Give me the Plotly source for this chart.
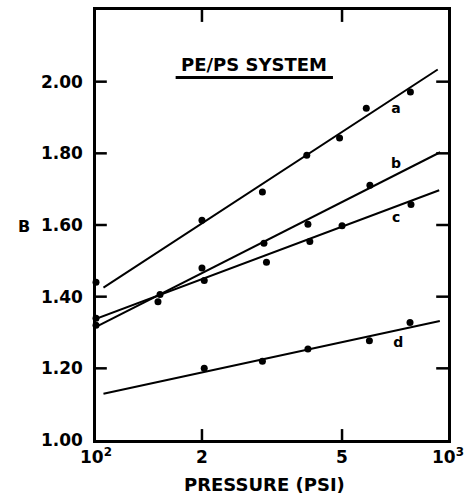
import math
import plotly.graph_objects as go

# Data
a_P = [100, 200, 297, 397, 492, 586, 782]
a_B = [1.44, 1.613, 1.692, 1.795, 1.843, 1.926, 1.971]
b_P = [100, 152, 200, 300, 400, 600]
b_B = [1.32, 1.406, 1.48, 1.549, 1.602, 1.711]
c_P = [100, 150, 203, 305, 405, 500, 785]
c_B = [1.34, 1.386, 1.445, 1.496, 1.554, 1.598, 1.657]
d_P = [203, 297, 400, 598, 780]
d_B = [1.20, 1.22, 1.254, 1.277, 1.328]

# fitted line endpoints
fit_a_P, fit_a_B = [105, 935], [1.425, 2.034]
fit_b_P, fit_b_B = [100, 950], [1.316, 1.803]
fit_c_P, fit_c_B = [100, 944], [1.338, 1.697]
fit_d_P, fit_d_B = [105, 948], [1.129, 1.332]

curve_labels = ["a", "b", "c", "d"]
label_P = [712, 712, 712, 722]
label_B = [1.921, 1.768, 1.619, 1.268]

x_tickvals = [100, 200, 500, 1000]
x_ticktext = ["10<sup>2</sup>", "2", "5", "10<sup>3</sup>"]
y_tickvals = [1.0, 1.2, 1.4, 1.6, 1.8, 2.0]
y_ticktext = ["1.00", "1.20", "1.40", "1.60", "1.80", "2.00"]
x_tickmarks = [200, 500]
y_tickmarks = [1.2, 1.4, 1.6, 1.8, 2.0]

X_RANGE_LOG = [2, 3]
Y_RANGE = [1.0, 2.2]
PW, PH = 358, 433  # plot area in pixels

FONT = "DejaVu Sans"
fig = go.Figure()
for P, B in [(fit_a_P, fit_a_B), (fit_b_P, fit_b_B), (fit_c_P, fit_c_B), (fit_d_P, fit_d_B)]:
    fig.add_trace(go.Scatter(x=P, y=B, mode="lines", line=dict(color="black", width=2),
                             showlegend=False, hoverinfo="skip"))
for P, B in [(a_P, a_B), (b_P, b_B), (c_P, c_B), (d_P, d_B)]:
    fig.add_trace(go.Scatter(x=P, y=B, mode="markers", marker=dict(color="black", size=7),
                             showlegend=False, cliponaxis=False))
fig.add_trace(go.Scatter(x=label_P, y=label_B, mode="text", text=curve_labels,
                         textfont=dict(family=FONT, size=14, color="black", weight="bold"),
                         showlegend=False))

axis_common = dict(showline=True, linecolor="black", linewidth=2.5, mirror=True,
                   ticks="", showgrid=False, zeroline=False,
                   tickfont=dict(family=FONT, size=17, color="black", weight="bold"))
fig.update_xaxes(type="log", range=X_RANGE_LOG, tickvals=x_tickvals, ticktext=x_ticktext,
                 **axis_common)
fig.update_yaxes(range=Y_RANGE, tickvals=y_tickvals, ticktext=y_ticktext,
                 ticklabelstandoff=7, **axis_common)

# inside tick marks as paper-referenced shapes (tick value -> axis fraction)
tick_line = dict(color="black", width=2.5)
for v in x_tickmarks:
    fx = (math.log10(v) - X_RANGE_LOG[0]) / (X_RANGE_LOG[1] - X_RANGE_LOG[0])
    fig.add_shape(type="line", xref="paper", yref="paper", x0=fx, x1=fx, y0=0, y1=11 / PH,
                  line=tick_line)
    fig.add_shape(type="line", xref="paper", yref="paper", x0=fx, x1=fx, y0=1, y1=1 - 12 / PH,
                  line=tick_line)
for v in y_tickmarks:
    fy = (v - Y_RANGE[0]) / (Y_RANGE[1] - Y_RANGE[0])
    fig.add_shape(type="line", xref="paper", yref="paper", x0=0, x1=11 / PW, y0=fy, y1=fy,
                  line=tick_line)
    fig.add_shape(type="line", xref="paper", yref="paper", x0=1, x1=1 - 12 / PW, y0=fy, y1=fy,
                  line=tick_line)

fig.add_annotation(text="PE/PS SYSTEM", xref="paper", yref="paper", x=0.45, y=0.873,
                   xanchor="center", yanchor="middle",
                   showarrow=False, font=dict(family=FONT, size=18, color="black", weight="bold"))
fig.add_shape(type="line", xref="paper", yref="paper", x0=(177 - 96) / PW, x1=(337 - 96) / PW,
              y0=(440 - 75) / PH, y1=(440 - 75) / PH, line=dict(color="black", width=3))
fig.add_annotation(text="PRESSURE (PSI)", xref="paper", yref="paper", x=0.479, y=-0.104,
                   xanchor="center", yanchor="middle",
                   showarrow=False, font=dict(family=FONT, size=18, color="black", weight="bold"))
fig.add_annotation(text="B", xref="paper", yref="paper", x=(23 - 96) / PW, y=(440 - 225) / PH,
                   xanchor="center", yanchor="middle",
                   showarrow=False, font=dict(family=FONT, size=16, color="black", weight="bold"))

fig.update_layout(width=471, height=494, margin=dict(l=96, r=17, t=7, b=54),
                  plot_bgcolor="white", paper_bgcolor="white")
fig.write_html("out.html")
